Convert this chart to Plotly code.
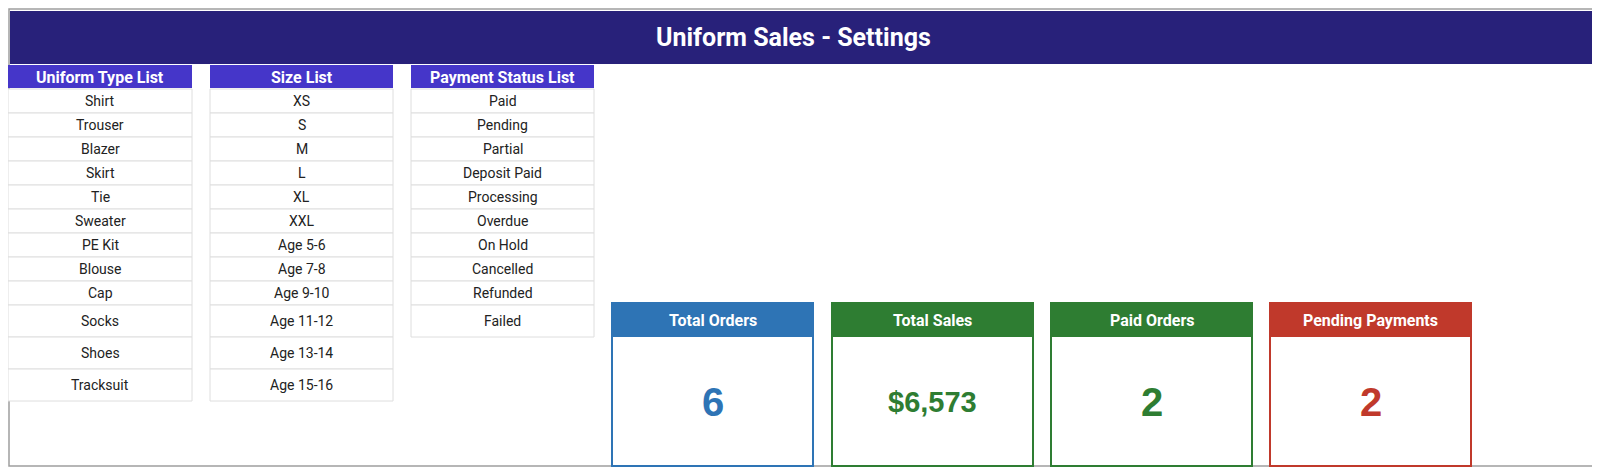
import plotly.graph_objects as go

title = "Uniform Sales - Settings"
list_headers = ["Uniform Type List", "Size List", "Payment Status List"]
uniform_types = ["Shirt", "Trouser", "Blazer", "Skirt", "Tie", "Sweater", "PE Kit", "Blouse", "Cap", "Socks", "Shoes", "Tracksuit"]
sizes = ["XS", "S", "M", "L", "XL", "XXL", "Age 5-6", "Age 7-8", "Age 9-10", "Age 11-12", "Age 13-14", "Age 15-16"]
statuses = ["Paid", "Pending", "Partial", "Deposit Paid", "Processing", "Overdue", "On Hold", "Cancelled", "Refunded", "Failed"]
kpi_titles = ["Total Orders", "Total Sales", "Paid Orders", "Pending Payments"]
kpi_values = ["6", "$6,573", "2", "2"]
kpi_colors = ["#2e74b5", "#2e7d32", "#2e7d32", "#c0392b"]

W, H = 1600, 468
fig = go.Figure()
shapes, ann = [], []

def rect(x0, y0, x1, y1, fill=None, line=None, lw=1):
    shapes.append(dict(type="rect", xref="x", yref="y", x0=x0, y0=y0, x1=x1, y1=y1,
                       fillcolor=fill or "rgba(0,0,0,0)",
                       line=dict(color=line or "rgba(0,0,0,0)", width=lw if line else 0), layer="below"))

def text(x, y, s, size, color, family="Roboto", bold=False):
    ann.append(dict(x=x, y=y, xref="x", yref="y", text=f"<b>{s}</b>" if bold else s, showarrow=False,
                    font=dict(size=size, color=color, family=family), xanchor="center", yanchor="middle"))

# outer border and title bar
rect(1, 1, 1598, 458, fill="white", line="#9e9e9e", lw=1.5)
rect(2, 3, 1597, 56, fill="#28217a")
text(785, 29, title, 25, "white", bold=True)

# lists
cols = [(0, 184), (202, 385), (403, 586)]
lists = [uniform_types, sizes, statuses]
for (x0, x1), head, items in zip(cols, list_headers, lists):
    rect(x0, 57, x1, 80, fill="#4536c9")
    text((x0 + x1) / 2, 69, head, 16, "white", bold=True)
    y = 81
    for i, it in enumerate(items):
        h = 24 if i < 9 else 32
        rect(x0, y, x1, y + h, fill="white", line="#dedede", lw=1)
        text((x0 + x1) / 2, y + h / 2, it, 14, "#222222")
        y += h

# KPI cards
cx = [604, 824, 1043, 1262]
for x0, t, v, c in zip(cx, kpi_titles, kpi_values, kpi_colors):
    x1 = x0 + 201
    rect(x0, 295, x1, 458, fill="white", line=c, lw=2)
    rect(x0, 295, x1, 328, fill=c, line=c, lw=2)
    text((x0 + x1) / 2, 312, t, 16, "white", bold=True)
    text((x0 + x1) / 2, 394, v, 29 if v.startswith("$") else 40, c, family="Liberation Sans", bold=True)

fig.update_layout(width=W, height=H, margin=dict(l=0, r=0, t=0, b=0),
                  paper_bgcolor="white", plot_bgcolor="white", showlegend=False,
                  shapes=shapes, annotations=ann,
                  xaxis=dict(range=[0, W], visible=False, fixedrange=True),
                  yaxis=dict(range=[H, 0], visible=False, fixedrange=True))
fig.write_html("out.html")
